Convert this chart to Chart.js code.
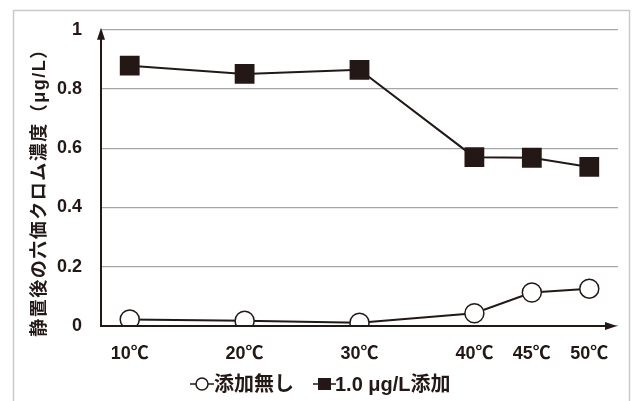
<!DOCTYPE html>
<html>
<head>
<meta charset="utf-8">
<script src="https://cdn.jsdelivr.net/npm/chart.js@4"></script>
<style>
  html, body { margin: 0; padding: 0; background: #fff; }
  #wrap { width: 632px; height: 401px; position: relative; }
</style>
</head>
<body>
<div id="wrap"><canvas id="c" width="632" height="401"></canvas></div>
<script>
// Storage temperature (℃) and hexavalent chromium concentration after standing (μg/L)
const temperatures = [10, 20, 30, 40, 45, 50];
const noAddition = [0.022, 0.018, 0.011, 0.043, 0.113, 0.126];
const withAddition = [0.879, 0.851, 0.865, 0.570, 0.568, 0.537];
const seriesNames = ['添加無し', '1.0 μg/L添加'];
const yTicks = [0, 0.2, 0.4, 0.6, 0.8, 1];
const yTitle = '静置後の六価クロム濃度（μg/L）';

const INK = '#231815';
const LATIN = '"Liberation Sans", Arial, sans-serif';
const CJK = '"Liberation Sans", "Noto Sans CJK JP", sans-serif';

const toPoints = vals => temperatures.map((t, i) => ({ x: t, y: vals[i] }));

const decor = {
  id: 'decor',
  beforeDraw(chart) {
    const ctx = chart.ctx;
    ctx.save();
    ctx.fillStyle = '#fff';
    ctx.fillRect(0, 0, chart.width, chart.height);
    ctx.strokeStyle = '#c9c9c9';
    ctx.lineWidth = 1.5;
    ctx.strokeRect(13.5, 10.5, 616, 420);
    ctx.restore();
  },
  afterDraw(chart) {
    const ctx = chart.ctx;
    const a = chart.chartArea;
    ctx.save();
    // axes with arrowheads
    ctx.strokeStyle = INK;
    ctx.fillStyle = INK;
    ctx.lineWidth = 2;
    ctx.beginPath();
    ctx.moveTo(a.left, a.bottom);
    ctx.lineTo(a.left, a.top + 8);
    ctx.moveTo(a.left - 1, a.bottom);
    ctx.lineTo(a.right - 10, a.bottom);
    ctx.stroke();
    ctx.beginPath();
    ctx.moveTo(a.left, a.top - 2);
    ctx.lineTo(a.left - 4, a.top + 10);
    ctx.lineTo(a.left + 4, a.top + 10);
    ctx.closePath();
    ctx.fill();
    ctx.beginPath();
    ctx.moveTo(a.right - 1, a.bottom);
    ctx.lineTo(a.right - 13, a.bottom - 4);
    ctx.lineTo(a.right - 13, a.bottom + 4);
    ctx.closePath();
    ctx.fill();

    // vertical axis title
    ctx.save();
    ctx.translate(40, 188);
    ctx.rotate(-Math.PI / 2);
    ctx.font = 'bold 18px ' + CJK;
    ctx.letterSpacing = '1.5px';
    ctx.textAlign = 'center';
    ctx.textBaseline = 'middle';
    ctx.fillText(yTitle, 0, 0);
    ctx.restore();

    // legend
    const ly = 384;
    ctx.font = 'bold 20px ' + CJK;
    ctx.textBaseline = 'middle';
    ctx.textAlign = 'left';
    ctx.lineWidth = 1.5;
    // series 1: open circle
    ctx.beginPath();
    ctx.moveTo(190, ly); ctx.lineTo(214, ly); ctx.stroke();
    ctx.beginPath();
    ctx.arc(202, ly, 6, 0, Math.PI * 2);
    ctx.fillStyle = '#fff'; ctx.fill(); ctx.stroke();
    ctx.fillStyle = INK;
    ctx.fillText(seriesNames[0], 214, ly + 1);
    // series 2: filled square
    ctx.beginPath();
    ctx.moveTo(313, ly); ctx.lineTo(336, ly); ctx.stroke();
    ctx.fillRect(318, ly - 6, 13, 12);
    ctx.fillText(seriesNames[1], 335, ly + 1);
    ctx.restore();
  }
};

new Chart(document.getElementById('c'), {
  type: 'line',
  data: {
    datasets: [
      {
        label: seriesNames[0],
        data: toPoints(noAddition),
        borderColor: INK,
        borderWidth: 2,
        pointStyle: 'circle',
        pointRadius: 9.5,
        pointBackgroundColor: '#fff',
        pointBorderColor: INK,
        pointBorderWidth: 1.5,
        tension: 0
      },
      {
        label: seriesNames[1],
        data: toPoints(withAddition),
        borderColor: INK,
        borderWidth: 2,
        pointStyle: 'rect',
        pointRadius: 14,
        pointBackgroundColor: INK,
        pointBorderColor: INK,
        pointBorderWidth: 0,
        tension: 0
      }
    ]
  },
  options: {
    responsive: false,
    animation: false,
    devicePixelRatio: 1,
    layout: { padding: { top: 28, right: 13, left: 0, bottom: 0 } },
    plugins: {
      legend: { display: false },
      tooltip: { enabled: false }
    },
    scales: {
      x: {
        type: 'linear',
        min: 7.5,
        max: 52.5,
        afterBuildTicks: s => { s.ticks = temperatures.map(v => ({ value: v })); },
        afterFit: s => { s.height = 75; },
        grid: { display: false, drawTicks: false },
        border: { display: false },
        ticks: {
          autoSkip: false,
          maxRotation: 0,
          padding: 17,
          color: INK,
          font: { family: CJK, size: 18, weight: 'bold' },
          callback: v => v + '℃'
        }
      },
      y: {
        min: 0,
        max: 1,
        afterBuildTicks: s => { s.ticks = yTicks.map(v => ({ value: v })); },
        afterFit: s => { s.width = 101; },
        grid: { color: '#a6a6a6', lineWidth: 1.2, drawTicks: false },
        border: { display: false },
        ticks: {
          padding: 19,
          color: INK,
          font: { family: LATIN, size: 18, weight: 'bold' },
          callback: v => String(v)
        }
      }
    }
  },
  plugins: [decor]
});
</script>
</body>
</html>
